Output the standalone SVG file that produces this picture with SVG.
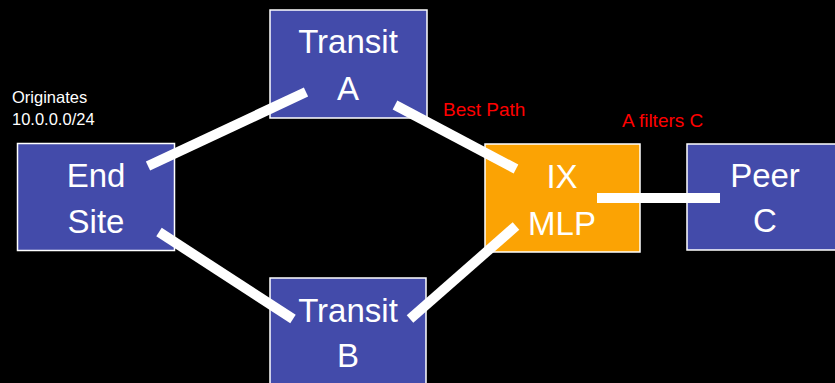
<svg xmlns="http://www.w3.org/2000/svg" width="835" height="383" viewBox="0 0 835 383">
<style>
.box{fill:#434BAA;stroke:#FFFFFF;stroke-width:1.5}
.ix{fill:#FBA304;stroke:#FFFFFF;stroke-width:1.5}
.lbl{font-family:"Liberation Sans",Arial,sans-serif;font-size:33px;fill:#FFFFFF;text-anchor:middle}
.note{font-family:"Liberation Sans",Arial,sans-serif;font-size:16.5px;fill:#FFFFFF}
.red{font-family:"Liberation Sans",Arial,sans-serif;font-size:19px;fill:#FF0000}
.conn{stroke:#FFFFFF;stroke-width:10;fill:none}
</style>
<rect width="835" height="383" fill="#000000"/>
<g id="endsite">
<rect class="box" x="17.5" y="143.5" width="157" height="107"/>
<text class="lbl" x="96" y="187">End</text>
<text class="lbl" x="96" y="233">Site</text>
</g>
<g id="transitA">
<rect class="box" x="270" y="10" width="157" height="108"/>
<text class="lbl" x="348" y="53">Transit</text>
<text class="lbl" x="348" y="100">A</text>
</g>
<g id="transitB">
<rect class="box" x="270" y="278" width="156" height="110"/>
<text class="lbl" x="348" y="322">Transit</text>
<text class="lbl" x="348" y="367">B</text>
</g>
<g id="ixmlp">
<rect class="ix" x="485" y="144" width="155" height="108"/>
<text class="lbl" x="562" y="188">IX</text>
<text class="lbl" x="562" y="235">MLP</text>
</g>
<g id="peerC">
<rect class="box" x="687" y="144" width="160" height="106"/>
<text class="lbl" x="765" y="187">Peer</text>
<text class="lbl" x="765" y="232">C</text>
</g>
<g id="connectors">
<line class="conn" x1="148" y1="166" x2="306" y2="92"/>
<line class="conn" x1="395" y1="105" x2="516" y2="169"/>
<line class="conn" x1="159" y1="232" x2="293" y2="319"/>
<line class="conn" x1="410" y1="319" x2="516" y2="226"/>
<line class="conn" x1="597" y1="198" x2="720" y2="198"/>
</g>
<g id="notes">
<text class="note" x="12" y="103">Originates</text>
<text class="note" x="12" y="125">10.0.0.0/24</text>
<text class="red" x="443" y="116">Best Path</text>
<text class="red" x="622" y="127">A filters C</text>
</g>
</svg>
